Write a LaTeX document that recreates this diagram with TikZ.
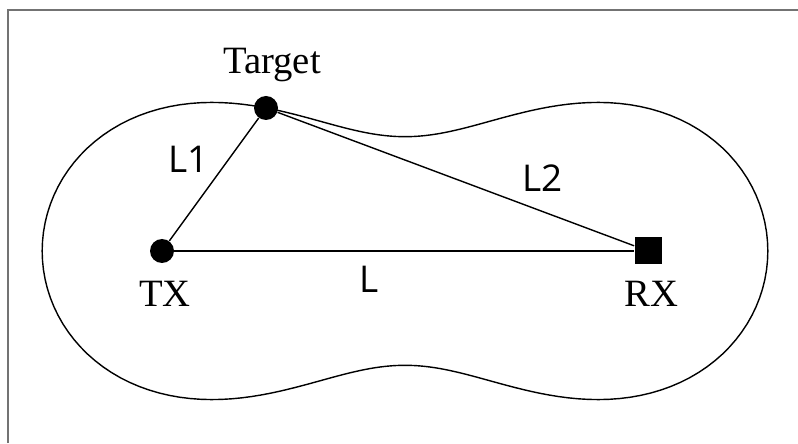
\documentclass[tikz,border=0pt]{standalone}
\usepackage{fontspec}
\setmainfont{Liberation Serif}
\newfontfamily\sanslabel{Open Sans}
\usepackage{tikz}
\usetikzlibrary{positioning,calc}

\begin{document}
\begin{tikzpicture}[
        dot_node/.style={
            circle,
            fill=black,
            minimum size=0.48cm,
            inner sep=0pt
        },
        box_node/.style={
            rectangle,
            fill=black,
            minimum size=0.54cm,
            inner sep=0pt
        },
        solid_edge/.style={
            draw=black,
            line width=0.8pt
        },
        frame_edge/.style={
            draw=black!55,
            line width=0.9pt
        },
        serif_label/.style={
            anchor=base,
            inner sep=0pt,
            font=\fontsize{22}{26}\selectfont
        },
        sans_label/.style={
            anchor=base,
            inner sep=0pt,
            font=\sanslabel\fontsize{21}{25}\selectfont
        },
        declare function={
            ca=4.87; cb=5.38;
            cr(\t)=sqrt(ca*ca*cos(2*\t)+sqrt(pow(cb,4)-pow(ca,4)*pow(sin(2*\t),2)));
        }
    ]
        \useasboundingbox (0,0) rectangle (15.96,8.86);

        % Frame
        \draw[frame_edge] (0.16,0) |- (15.96,8.66);

        % Coverage contour
        \coordinate (c) at (8.10,3.84);
        \draw[solid_edge, shift={(c)}] plot[domain=0:360, samples=241]
            ({cos(\x)*cr(\x)},{sin(\x)*cr(\x)}) -- cycle;

        % Coordinates
        \node[dot_node] (tx)  at (3.24, 3.84) {};
        \node[dot_node] (tgt) at (5.32, 6.70) {};
        \node[box_node] (rx)  at (12.96, 3.84) {};

        % Paths
        \draw[solid_edge] (tx) -- (tgt);
        \draw[solid_edge] (tgt) -- (rx);
        \draw[solid_edge] (tx) -- (rx);

        % Labels
        \node[serif_label] (tgt_lbl) at (5.44, 7.38) {Target};
        \node[serif_label] (tx_lbl)  at (3.30, 2.72) {TX};
        \node[serif_label] (rx_lbl)  at (13.03, 2.72) {RX};
        \node[sans_label]  (l1_lbl)  at (3.77, 5.40) {L1};
        \node[sans_label]  (l2_lbl)  at (10.85, 5.02) {L2};
        \node[sans_label]  (l_lbl)   at (7.39, 3.00) {L};
    \end{tikzpicture}
\end{document}
